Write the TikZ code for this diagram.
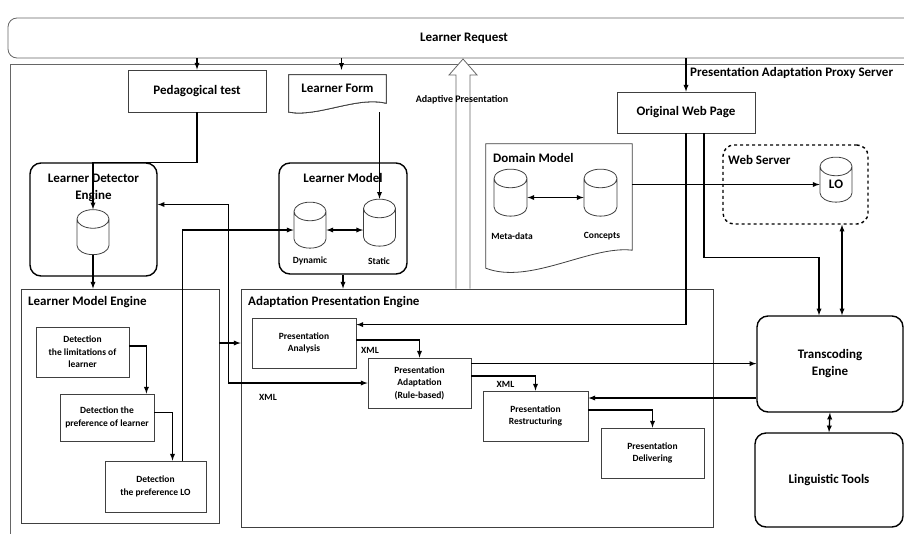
\documentclass[tikz,border=0pt]{standalone}
\usepackage{fontspec}
\setmainfont{Carlito}
\usetikzlibrary{shapes.geometric}

\begin{document}
\begin{tikzpicture}[x=1pt,y=-1pt,>=latex,
	big/.style={font=\bfseries\fontsize{13}{17}\selectfont},
	small/.style={font=\bfseries\fontsize{9.5}{12.5}\selectfont},
	tiny/.style={font=\bfseries\fontsize{9.5}{10}\selectfont,inner sep=0pt},
	box/.style={draw=black!75,line width=0.8pt,inner sep=1pt,align=center,small},
	rbox/.style={draw,line width=1.4pt,rounded corners=11pt,inner sep=1pt,align=center,big},
	db/.style={cylinder,shape border rotate=90,draw=black!75,line width=0.8pt,aspect=0.6,inner sep=0pt,text width=31pt,align=center,minimum width=32pt,minimum height=45pt},
	link/.style={line width=1.3pt,->},
	sheet/.style={draw=black!75,line width=0.8pt,fill=white}]
	\useasboundingbox (0,0) rectangle (904,533);
	\clip (0,0) rectangle (904,533);
	\node[draw=black!60,line width=0.8pt,rounded corners=9pt,minimum width=912pt,minimum height=40pt,big] (req) at (464,38) {Learner Request};
	\node[draw=black!60,line width=0.8pt,minimum width=920pt,minimum height=481pt] (proxy) at (470,304.5) {};
	\node[big,anchor=west,inner sep=0pt] (proxylbl) at (690,73) {Presentation Adaptation Proxy Server};

	\node[box,big,minimum width=138pt,minimum height=42pt] (ped) at (197,91) {Pedagogical test};
	\node[minimum width=97pt,minimum height=37pt,inner sep=0pt] (form) at (337.5,93.5) {};
	\foreach \s/\t in {14/5,7/2.5,0/0}
		\draw[sheet,xshift=\s pt,yshift=\t pt] (form.south west) -- (form.north west) -- (form.north east) -- ([yshift=9pt]form.south east) .. controls ([xshift=-30pt,yshift=16pt]form.south east) and ([xshift=30pt,yshift=-5pt]form.south west) .. cycle;
	\node[big,inner sep=0pt] (formlbl) at ([yshift=5pt]form.center) {Learner Form};
	\coordinate (formtop) at ([xshift=4pt,yshift=5pt]form.north);

	\node[box,minimum width=472pt,minimum height=238pt] (ape) at (477,408) {};
	\node[big,anchor=west,inner sep=0pt] (apelbl) at (248,302) {Adaptation Presentation Engine};
	\draw[draw=black!60,line width=0.8pt,fill=white] (ape.north -| 456,0) -- (456,75) -- (449,75) -- (463,59) -- (477,75) -- (470,75) -- (ape.north -| 470,0);
	\node[small,font=\bfseries\fontsize{10}{12}\selectfont,inner sep=0pt] (adlbl) at (462,100) {Adaptive Presentation};

	\node[rbox,minimum width=127pt,minimum height=113pt] (det) at (93.5,219.5) {};
	\node[big,align=center,anchor=north,inner sep=0pt] (detlbl) at ([yshift=-12pt]det.north) {Learner Detector\\Engine};
	\node[db] (ldb) at (93,237) {};

	\node[rbox,minimum width=128pt,minimum height=111pt] (lm) at (343,218.5) {};
	\node[big,inner sep=0pt] (lmlbl) at (343,178) {Learner Model};
	\node[db,minimum height=46pt] (dyn) at (310,230) {};
	\node[db,minimum height=47pt] (sta) at (379.5,227.5) {};
	\node[tiny] (dynlbl) at (310,261) {Dynamic};
	\node[tiny] (stalbl) at (379,261) {Static};

	\node[minimum width=146pt,minimum height=124pt,inner sep=0pt] (dm) at (559,206) {};
	\draw[sheet] (dm.south west) -- (dm.north west) -- (dm.north east) -- ([yshift=18pt]dm.south east) .. controls ([xshift=-42pt,yshift=23pt]dm.south east) and ([xshift=44pt,yshift=-17pt]dm.south west) .. cycle;
	\node[big,anchor=west,inner sep=0pt] (dmlbl) at (493,158) {Domain Model};
	\node[db,minimum width=33pt,minimum height=47pt] (meta) at (510.5,197.5) {};
	\node[db,minimum width=33pt,minimum height=47pt] (conc) at (600.5,197.5) {};
	\node[tiny] (metalbl) at (512,236) {Meta-data};
	\node[tiny] (conclbl) at (602,236) {Concepts};

	\node[box,big,minimum width=138pt,minimum height=41pt] (owp) at (686,112.5) {Original Web Page};
	\node[draw,dashed,line width=1.4pt,rounded corners=11pt,minimum width=145pt,minimum height=79pt] (ws) at (795.5,184.5) {};
	\node[big,anchor=west,inner sep=0pt] (wslbl) at (728,160) {Web Server};
	\node[db,big] (lo) at (836,184.5) {LO};

	\node[box,minimum width=198pt,minimum height=234pt] (lme) at (120,406) {};
	\node[big,anchor=west,inner sep=0pt] (lmelbl) at (28,302) {Learner Model Engine};
	\node[box,minimum width=93pt,minimum height=50pt] (d1) at (82.5,352) {Detection\\the limitations of\\learner};
	\node[box,minimum width=94pt,minimum height=47pt] (d2) at (107,417.5) {Detection the\\preference of learner};
	\node[box,minimum width=101pt,minimum height=51pt] (d3) at (155.5,486.5) {Detection\\the preference LO};

	\node[box,minimum width=104pt,minimum height=50pt] (pa) at (304,343) {Presentation\\Analysis};
	\node[box,minimum width=103pt,minimum height=50pt] (pad) at (419.5,383) {Presentation\\Adaptation\\(Rule-based)};
	\node[box,minimum width=105pt,minimum height=50pt] (pr) at (535.5,416) {Presentation\\Restructuring};
	\node[box,minimum width=103pt,minimum height=50pt] (pd) at (652.5,453) {Presentation\\Delivering};
	\node[tiny] (xml1) at (370,350) {XML};
	\node[tiny] (xml2) at (505.5,384) {XML};
	\node[tiny] (xml3) at (268,397) {XML};

	\node[rbox,minimum width=146pt,minimum height=96pt] (trans) at (830,364) {Transcoding\\Engine};
	\node[rbox,minimum width=148pt,minimum height=94pt] (ling) at (829,480) {Linguistic Tools};

	\draw[link] (req.south -| ped.north) -- (ped.north);
	\draw[link] (req.south -| formtop) -- (formtop);
	\draw[link] (req.south -| owp.north) -- (owp.north);
	\draw[link] (ped.south) |- (ldb.north |- det.north) -- (ldb.north);
	\draw[link] (form.south -| sta.north) -- (sta.north);
	\draw[link,<->] (dyn.east) -- (dyn.east -| sta.west);
	\draw[link,<->] (meta.east) -- (conc.west);
	\draw[link] (ldb.south) -- (ldb.south |- lme.north);
	\draw[link] (lm.south) -- (lm.south |- ape.north);
	\draw[link] ([yshift=6pt]d1.east) -| ([xshift=-8pt]d2.north east);
	\draw[link] ([yshift=5pt]d2.east) -| ([xshift=17pt]d3.north);
	\draw[link] ([xshift=27pt]d3.north) |- (dyn.west);
	\coordinate (bus) at ([xshift=9pt]lme.east);
	\draw[link,<->] ([yshift=15pt]det.east) -| (bus |- pad.west) -- (pad.west);
	\draw[link] (lme.east |- pa) -- (ape.west |- pa);
	\draw[link] ([yshift=3pt]pa.east) -| (pad.north);
	\draw[link] ([yshift=7pt]pad.east) -| (pr.north);
	\draw[link] ([yshift=6pt]pr.east) -| (pd.north);
	\draw[link] ([yshift=-6pt]pad.north east) -- ([yshift=-6pt]pad.north east -| trans.west);
	\draw[link] (trans.west |- 0,398) -- (pr.east |- 0,398);
	\draw[link] (owp.south) |- ([yshift=-7pt]pa.north east);
	\draw[link] ([xshift=18pt]owp.south) -- ++(0,124) -| ([xshift=-11pt]trans.north);
	\draw[link] (dm.east |- lo.west) -- (lo.west);
	\draw[link,<->] ([xshift=12pt]trans.north) -- ([xshift=12pt]trans.north |- ws.south);
	\draw[link,<->] (trans.south) -- (ling.north);
\end{tikzpicture}
\end{document}
